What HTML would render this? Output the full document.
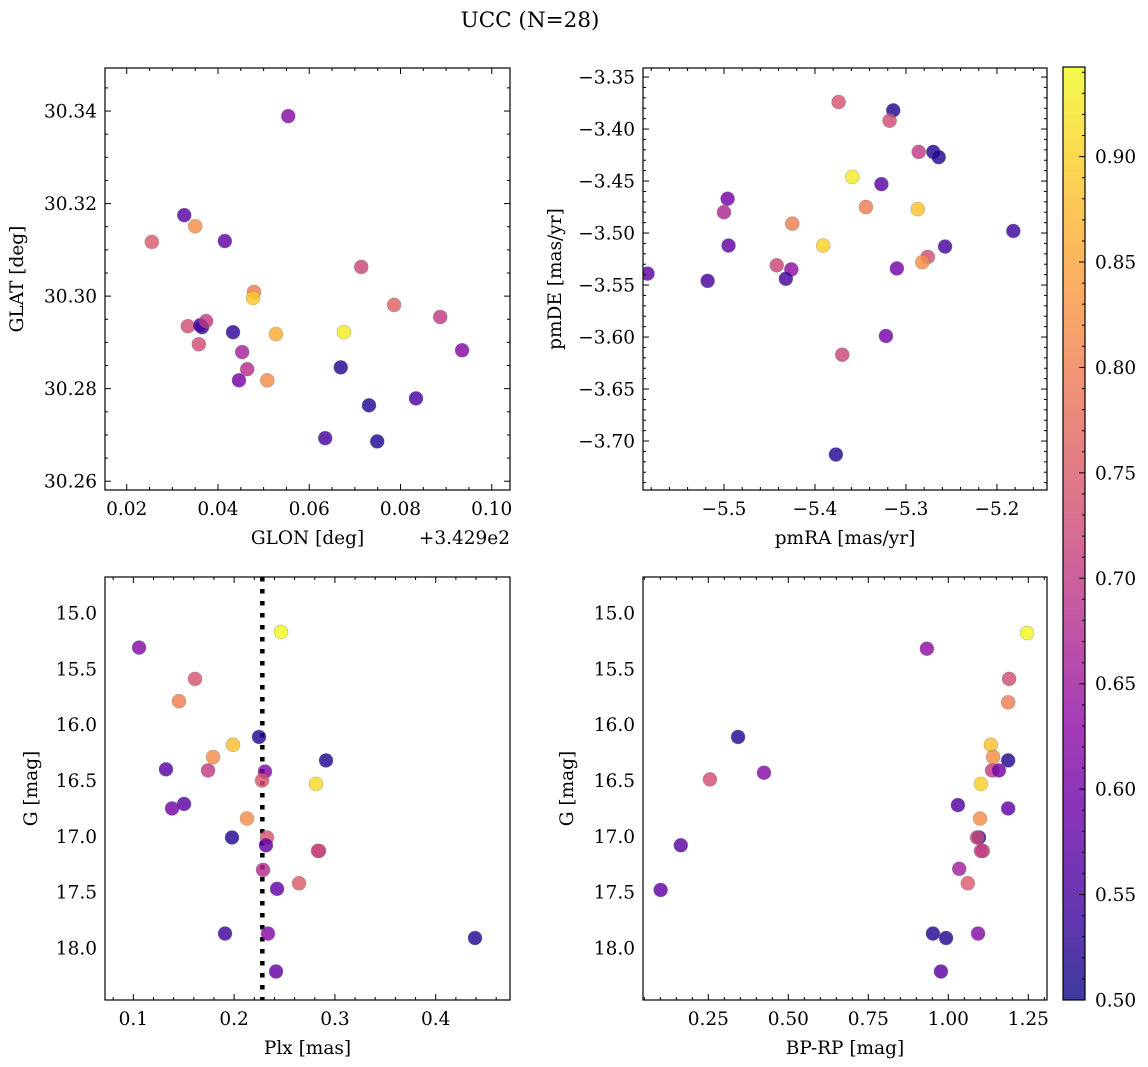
<!DOCTYPE html>
<html><head><meta charset="utf-8">
<style>
html,body{margin:0;padding:0;background:#fff;}
svg{display:block;font-family:"DejaVu Serif","Liberation Serif",serif;}
</style></head>
<body>
<svg id="fig" width="1148" height="1067" viewBox="0 0 1148 1067" xmlns="http://www.w3.org/2000/svg">
<text x="530" y="27" font-size="21.5" text-anchor="middle">UCC (N=28)</text>
</svg>
<script>
// ---- data ----
const glon = [0.0326,0.0350,0.0255,0.0415,0.0714,0.0479,0.0477,0.0334,0.0365,0.0361,0.0374,0.0358,0.0433,0.0527,0.0676,0.0453,0.0464,0.0446,0.0508,0.0669,0.0554,0.0786,0.0887,0.0935,0.0731,0.0834,0.0635,0.0749];
const glat = [30.3175,30.3151,30.3117,30.3119,30.3063,30.3009,30.2996,30.2935,30.2933,30.2937,30.2946,30.2896,30.2922,30.2918,30.2922,30.2879,30.2842,30.2818,30.2818,30.2846,30.3389,30.2981,30.2955,30.2883,30.2764,30.2779,30.2693,30.2686];
const probPos = [0.57,0.82,0.75,0.58,0.72,0.80,0.89,0.73,0.52,0.55,0.70,0.73,0.53,0.86,0.93,0.66,0.68,0.60,0.82,0.52,0.62,0.76,0.70,0.62,0.52,0.55,0.55,0.52];

const pmra = [-5.374,-5.314,-5.318,-5.286,-5.270,-5.264,-5.359,-5.327,-5.182,-5.496,-5.500,-5.344,-5.287,-5.425,-5.495,-5.391,-5.257,-5.276,-5.282,-5.310,-5.442,-5.426,-5.432,-5.584,-5.518,-5.322,-5.370,-5.377];
const pmde = [-3.374,-3.382,-3.392,-3.422,-3.422,-3.427,-3.446,-3.453,-3.498,-3.467,-3.480,-3.475,-3.477,-3.491,-3.512,-3.512,-3.513,-3.523,-3.528,-3.534,-3.531,-3.535,-3.544,-3.539,-3.546,-3.599,-3.617,-3.713];
const probPM = [0.74,0.52,0.73,0.70,0.52,0.52,0.93,0.57,0.54,0.60,0.67,0.80,0.88,0.80,0.58,0.90,0.55,0.73,0.82,0.60,0.72,0.63,0.55,0.57,0.55,0.60,0.72,0.52];

const plx = [0.2465,0.1057,0.1612,0.1453,0.2247,0.1989,0.1791,0.1741,0.2912,0.1324,0.2306,0.2277,0.2812,0.1503,0.1384,0.2128,0.1979,0.2326,0.2316,0.2842,0.2832,0.2287,0.2644,0.2426,0.1910,0.2336,0.4390,0.2416];
const gPlx = [15.17,15.31,15.59,15.79,16.11,16.18,16.29,16.41,16.32,16.40,16.42,16.50,16.53,16.71,16.75,16.84,17.01,17.01,17.08,17.13,17.13,17.30,17.42,17.47,17.87,17.87,17.91,18.21];
const probPlx = [0.94,0.62,0.74,0.80,0.52,0.88,0.82,0.70,0.52,0.57,0.62,0.74,0.91,0.57,0.60,0.82,0.52,0.74,0.58,0.70,0.72,0.68,0.75,0.58,0.54,0.62,0.52,0.58];
const plxLine = [0.228];

const bprp = [1.246,0.933,1.190,1.187,1.133,1.140,1.187,1.137,1.158,1.102,1.030,1.187,1.099,1.096,1.090,1.108,1.102,1.034,1.061,0.952,0.993,1.093,0.977,0.343,0.424,0.255,0.164,0.101];
const gCol = [15.18,15.32,15.59,15.80,16.18,16.29,16.32,16.41,16.41,16.53,16.72,16.75,16.84,17.01,17.01,17.13,17.13,17.29,17.42,17.87,17.91,17.87,18.21,16.11,16.43,16.49,17.08,17.48];
const probCol = [0.94,0.63,0.73,0.80,0.88,0.82,0.52,0.70,0.60,0.90,0.56,0.58,0.82,0.52,0.72,0.72,0.70,0.66,0.75,0.52,0.52,0.62,0.57,0.52,0.62,0.73,0.57,0.58];

const cbTicks = [0.50,0.55,0.60,0.65,0.70,0.75,0.80,0.85,0.90];
const cbRange = [0.5,0.9425];

// ---- helpers ----
const NS="http://www.w3.org/2000/svg";
const svg=document.getElementById('fig');
const FS=18.5;
function el(tag,attrs,parent){const e=document.createElementNS(NS,tag);for(const k in attrs)e.setAttribute(k,attrs[k]);(parent||svg).appendChild(e);return e;}
const stops=["#0d0887","#41049d","#6a00a8","#8f0da4","#b12a90","#cc4778","#e16462","#f2844b","#fca636","#fcce25","#f0f921"];
function hex(h){return [parseInt(h.slice(1,3),16),parseInt(h.slice(3,5),16),parseInt(h.slice(5,7),16)];}
function plasma(t){t=Math.max(0,Math.min(1,t));const f=t*10,i=Math.min(9,Math.floor(f)),u=f-i;const a=hex(stops[i]),b=hex(stops[i+1]);return 'rgb('+a.map((v,k)=>Math.round(v+(b[k]-v)*u)).join(',')+')';}
function cnorm(p){return (p-cbRange[0])/(cbRange[1]-cbRange[0]);}

function panel(o){
  const g=el('g',{});
  
  
  const [x0,x1]=o.xlim,[y0,y1]=o.ylim;
  const sx=v=>o.L+(v-x0)/(x1-x0)*(o.R-o.L);
  const sy=v=>o.B-(v-y0)/(y1-y0)*(o.B-o.T);
  const cid='clip'+o.name;
  const cp=el('clipPath',{id:cid},g);el('rect',{x:o.L,y:o.T,width:o.R-o.L,height:o.B-o.T},cp);
  const marks=el('g',{'clip-path':'url(#'+cid+')'},g);
  if(o.vline){o.vline.forEach(v=>{const ln=el('line',{x1:sx(v),x2:sx(v),y1:o.T,y2:o.B,stroke:'#000','stroke-width':4.5,'stroke-dasharray':'4.5 7.5'},marks);
    
    });}
  for(let i=0;i<o.xs.length;i++){
    const c=el('circle',{cx:sx(o.xs[i]),cy:sy(o.ys[i]),r:7,fill:plasma(cnorm(o.ps[i])),'fill-opacity':0.82,stroke:'#777','stroke-opacity':0.5,'stroke-width':0.6},marks);
    
    
  }
  const tk=el('g',{stroke:'#000','stroke-width':1},g);
  const eps=1e-9;
  for(let v=Math.ceil(x0/o.xmin-eps)*o.xmin;v<=x1+eps;v+=o.xmin){
    const major=Math.abs(v/o.xmaj-Math.round(v/o.xmaj))<1e-6;const L=major?6:3;const X=sx(v);
    el('line',{x1:X,x2:X,y1:o.B,y2:o.B-L},tk);el('line',{x1:X,x2:X,y1:o.T,y2:o.T+L},tk);
  }
  for(let v=Math.ceil(y0/o.ymin-eps)*o.ymin;v<=y1+eps;v+=o.ymin){
    const major=Math.abs(v/o.ymaj-Math.round(v/o.ymaj))<1e-6;const L=major?6:3;const Y=sy(v);
    el('line',{x1:o.L,x2:o.L+L,y1:Y,y2:Y},tk);el('line',{x1:o.R,x2:o.R-L,y1:Y,y2:Y},tk);
  }
  el('rect',{x:o.L,y:o.T,width:o.R-o.L,height:o.B-o.T,fill:'none',stroke:'#000','stroke-width':1.2},g);
  o.xticks.forEach((v,i)=>{const t=el('text',{x:sx(v),y:o.B+25,'font-size':FS,'text-anchor':'middle'},g);t.textContent=o.xlabels[i];
    
    });
  o.yticks.forEach((v,i)=>{const t=el('text',{x:o.L-8,y:sy(v)+6.5,'font-size':FS,'text-anchor':'end'},g);t.textContent=o.ylabels[i];
    
    });
  const xt=el('text',{x:(o.L+o.R)/2,y:o.B+54,'font-size':FS,'text-anchor':'middle'},g);xt.textContent=o.xtitle;
  
  
  const yx=o.L-o.ytoff, yc=(o.T+o.B)/2;
  const yt=el('text',{x:yx,y:yc,'font-size':FS,'text-anchor':'middle',transform:'rotate(-90 '+yx+' '+yc+')'},g);yt.textContent=o.ytitle;
  
  
  if(o.offset){const t=el('text',{x:o.R,y:o.B+54,'font-size':FS,'text-anchor':'end'},g);t.textContent=o.offset;
    
    }
}
function rng(a,b,s){const r=[];for(let v=a;v<=b+1e-9;v+=s)r.push(+v.toFixed(6));return r;}

panel({name:'glon-glat-panel',L:105,R:510,T:68,B:490,xlim:[0.01524,0.1040],ylim:[30.2581,30.3493],
  xs:glon,ys:glat,ps:probPos,xmaj:0.02,xmin:0.005,ymaj:0.02,ymin:0.005,
  xticks:rng(0.02,0.10,0.02),xlabels:['0.02','0.04','0.06','0.08','0.10'],
  yticks:rng(30.26,30.34,0.02),ylabels:['30.26','30.28','30.30','30.32','30.34'],
  xtitle:'GLON [deg]',ytitle:'GLAT [deg]',ytoff:82,offset:'+3.429e2'});
panel({name:'proper-motion-panel',L:643,R:1047,T:68,B:490,xlim:[-5.589,-5.145],ylim:[-3.7471,-3.3413],
  xs:pmra,ys:pmde,ps:probPM,xmaj:0.1,xmin:0.02,ymaj:0.05,ymin:0.01,
  xticks:[-5.5,-5.4,-5.3,-5.2],xlabels:['\u22125.5','\u22125.4','\u22125.3','\u22125.2'],
  yticks:[-3.70,-3.65,-3.60,-3.55,-3.50,-3.45,-3.40,-3.35],ylabels:['\u22123.70','\u22123.65','\u22123.60','\u22123.55','\u22123.50','\u22123.45','\u22123.40','\u22123.35'],
  xtitle:'pmRA [mas/yr]',ytitle:'pmDE [mas/yr]',ytoff:82});
panel({name:'parallax-magnitude-panel',L:105,R:510,T:577,B:1000,xlim:[0.0719,0.4737],ylim:[18.465,14.678],
  xs:plx,ys:gPlx,ps:probPlx,xmaj:0.1,xmin:0.02,ymaj:0.5,ymin:0.1,vline:plxLine,
  xticks:[0.1,0.2,0.3,0.4],xlabels:['0.1','0.2','0.3','0.4'],
  yticks:[15,15.5,16,16.5,17,17.5,18],ylabels:['15.0','15.5','16.0','16.5','17.0','17.5','18.0'],
  xtitle:'Plx [mas]',ytitle:'G [mag]',ytoff:68});
panel({name:'color-magnitude-panel',L:643,R:1047,T:577,B:1000,xlim:[0.0459,1.3084],ylim:[18.465,14.678],
  xs:bprp,ys:gCol,ps:probCol,xmaj:0.25,xmin:0.05,ymaj:0.5,ymin:0.1,
  xticks:[0.25,0.5,0.75,1.0,1.25],xlabels:['0.25','0.50','0.75','1.00','1.25'],
  yticks:[15,15.5,16,16.5,17,17.5,18],ylabels:['15.0','15.5','16.0','16.5','17.0','17.5','18.0'],
  xtitle:'BP-RP [mag]',ytitle:'G [mag]',ytoff:70});

// colorbar
(function(){
  const L=1063,R=1085,T=67,B=1000;
  const g=el('g',{});
  
  
  const defs=el('defs',{},g);
  const lg=el('linearGradient',{id:'plasmaGrad',x1:0,y1:1,x2:0,y2:0},defs);
  stops.forEach((c,i)=>el('stop',{offset:(i/10),'stop-color':c},lg));
  el('rect',{x:L,y:T,width:R-L,height:B-T,fill:'url(#plasmaGrad)','fill-opacity':0.8},g);
  const sy=v=>B-(v-cbRange[0])/(cbRange[1]-cbRange[0])*(B-T);
  for(let v=0.50;v<=cbRange[1]+1e-9;v+=0.01){const Y=sy(v);const major=Math.abs(v*20-Math.round(v*20))<1e-6;
    el('line',{x1:R,x2:R-(major?6:3),y1:Y,y2:Y,stroke:'#000','stroke-width':1},g);}
  el('rect',{x:L,y:T,width:R-L,height:B-T,fill:'none',stroke:'#000','stroke-width':1.2},g);
  cbTicks.forEach(v=>{const t=el('text',{x:R+10,y:sy(v)+6.5,'font-size':FS},g);t.textContent=v.toFixed(2);
    
    });
})();
</script>
</body></html>
